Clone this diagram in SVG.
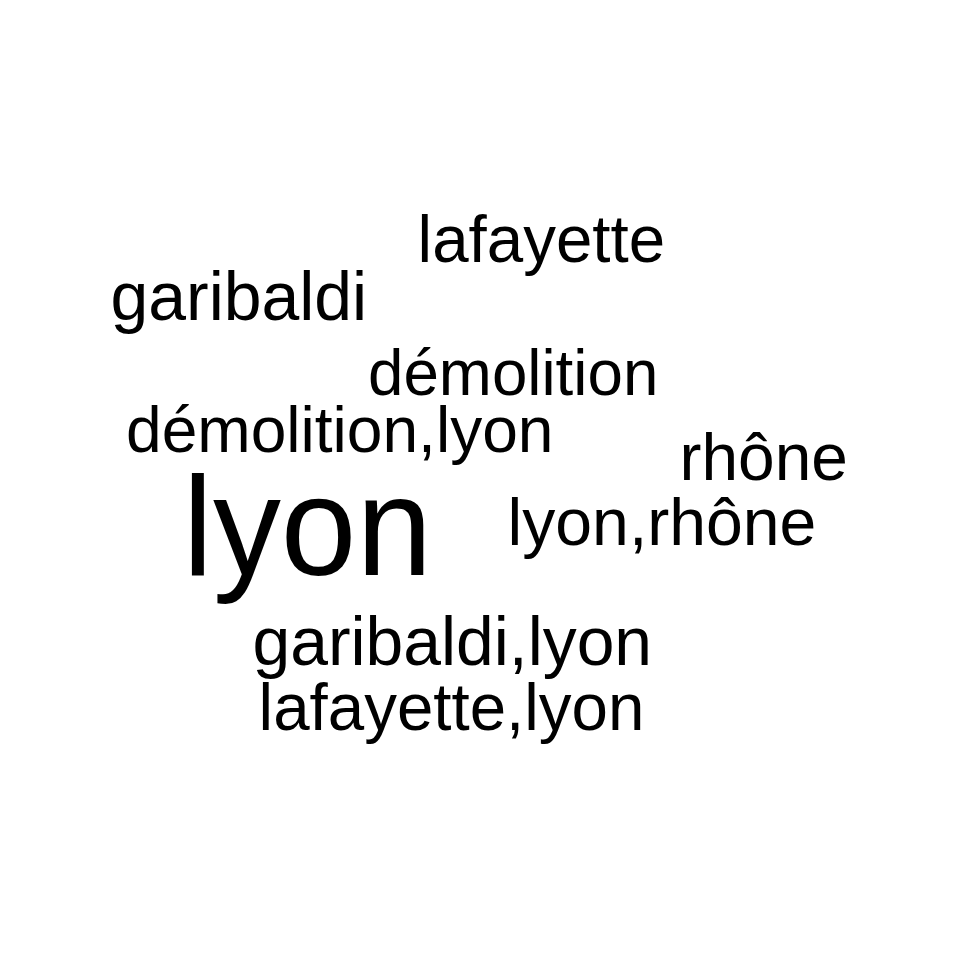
<svg xmlns="http://www.w3.org/2000/svg" width="960" height="960" viewBox="0 0 960 960">
<style>
text { font-family: "Liberation Sans", Arial, Helvetica, sans-serif; fill: #000; }
</style>
<rect width="960" height="960" fill="#fff"/>
<g id="w-lafayette"><text x="417.6" y="262" font-size="66" textLength="247.5" lengthAdjust="spacingAndGlyphs">lafayette</text></g>
<g id="w-garibaldi"><text x="110.5" y="320" font-size="69" textLength="256.7" lengthAdjust="spacingAndGlyphs">garibaldi</text></g>
<g id="w-demolition"><text x="368" y="395" font-size="65" textLength="290.3" lengthAdjust="spacingAndGlyphs">démolition</text></g>
<g id="w-demolition-lyon"><text x="126" y="452" font-size="65" textLength="427.5" lengthAdjust="spacingAndGlyphs">démolition,lyon</text></g>
<g id="w-rhone"><text x="679.6" y="480" font-size="67" textLength="168.3" lengthAdjust="spacingAndGlyphs">rhône</text></g>
<g id="w-lyon-rhone"><text x="507.6" y="545" font-size="67" textLength="308.8" lengthAdjust="spacingAndGlyphs">lyon,rhône</text></g>
<g id="w-lyon"><text x="182.7" y="575" font-size="141" textLength="249.4" lengthAdjust="spacingAndGlyphs">lyon</text></g>
<g id="w-garibaldi-lyon"><text x="252.5" y="665" font-size="68.5" textLength="399.6" lengthAdjust="spacingAndGlyphs">garibaldi,lyon</text></g>
<g id="w-lafayette-lyon"><text x="258.6" y="730" font-size="66.5" textLength="385.8" lengthAdjust="spacingAndGlyphs">lafayette,lyon</text></g>
<g id="connectors"></g>
</svg>
